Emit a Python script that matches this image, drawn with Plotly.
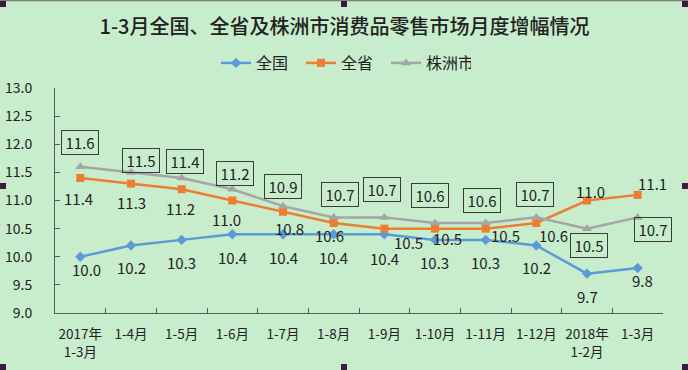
import plotly.graph_objects as go

# ---------------- data ----------------
categories = ["2017年<br>1-3月", "1-4月", "1-5月", "1-6月", "1-7月", "1-8月", "1-9月",
              "1-10月", "1-11月", "1-12月", "2018年<br>1-2月", "1-3月"]
national = [10.0, 10.2, 10.3, 10.4, 10.4, 10.4, 10.4, 10.3, 10.3, 10.2, 9.7, 9.8]
province = [11.4, 11.3, 11.2, 11.0, 10.8, 10.6, 10.5, 10.5, 10.5, 10.6, 11.0, 11.1]
zhuzhou = [11.6, 11.5, 11.4, 11.2, 10.9, 10.7, 10.7, 10.6, 10.6, 10.7, 10.5, 10.7]
series_names = ["全国", "全省", "株洲市"]
y_ticks = [9.0, 9.5, 10.0, 10.5, 11.0, 11.5, 12.0, 12.5, 13.0]
title_text = "1-3月全国、全省及株洲市消费品零售市场月度增幅情况"

# ---------------- label offsets (pixels, dx right, dy down) ----------------
nat_off = [(6, 13), (0, 22), (0, 23), (0, 23), (0, 23), (0, 23), (0, 24), (-1, 23),
           (0, 23), (0, 22), (0, 23), (5, 12)]
prov_off = [(-2, 20), (0, 19), (-1, 19), (-6, 19), (6, 17), (-4, 12), (24, 14), (12, 10),
            (20, 7), (17, 12), (3, -9), (15, -11)]
zz_off = [(0, -24), (10, -12), (3, -17), (3, -16), (0, -20), (6, -23), (-2, -28), (-5, -28),
          (-4, -23), (-1, -23), (2, 17), (15, 12)]

colors = ["#5B9BD5", "#ED7D31", "#A5A5A5"]
symbols = ["diamond", "square", "triangle-up"]
msizes = [8, 8, 9]
BG = "#C7EDCC"
FONT = "Noto Sans CJK SC, Noto Sans, sans-serif"
TXT = "#222222"

W, H = 688, 370
ML, MR, MT, MB = 55, 25, 88, 57
PW, PH = W - ML - MR, H - MT - MB

fig = go.Figure()
for name, vals, c, s, ms in zip(series_names, [national, province, zhuzhou], colors, symbols, msizes):
    fig.add_trace(go.Scatter(
        x=categories, y=vals, name=name, mode="lines+markers",
        line=dict(color=c, width=2.5),
        marker=dict(symbol=s, size=ms, color=c),
    ))

annotations = []
for vals, offs, boxed in [(national, nat_off, False), (province, prov_off, False), (zhuzhou, zz_off, True)]:
    for cat, v, (dx, dy) in zip(categories, vals, offs):
        a = dict(x=cat, y=v, text=f"{v:.1f}", showarrow=False, xshift=dx, yshift=-dy,
                 xanchor="center", yanchor="middle",
                 font=dict(family=FONT, size=15, color=TXT))
        if boxed:
            a.update(bordercolor="#3A3A3A", borderwidth=1, borderpad=1, width=34, height=21,
                     bgcolor="rgba(0,0,0,0)")
        annotations.append(a)


def px_x(p):
    return (p - ML) / PW


def px_y(p):
    return (H - MB - p) / PH


shapes = [dict(type="line", xref="paper", yref="paper", x0=px_x(0), x1=px_x(W),
               y0=px_y(0.5), y1=px_y(0.5), line=dict(color="#7F7F7F", width=1.5))]
handles = [(0, 1), (341, 1), (682, 1), (0, 183), (682, 183), (0, 364), (341, 364), (682, 364)]
for hx, hy in handles:
    shapes.append(dict(type="rect", xref="paper", yref="paper",
                       x0=px_x(hx), x1=px_x(hx + 6), y0=px_y(hy + 6), y1=px_y(hy),
                       fillcolor="#3B1A3B", line=dict(width=0)))

fig.update_layout(
    width=W, height=H,
    margin=dict(l=ML, r=MR, t=MT, b=MB, autoexpand=False),
    paper_bgcolor=BG, plot_bgcolor=BG,
    font=dict(family=FONT, color=TXT),
    title=dict(text=title_text, x=344.5 / W, xanchor="center", y=1 - 27 / H, yanchor="middle",
               font=dict(family=FONT, size=20, color=TXT, weight=500)),
    legend=dict(orientation="h", x=px_x(216), xanchor="left", y=px_y(63), yanchor="middle",
                font=dict(family=FONT, size=16, color=TXT), itemwidth=30,
                entrywidth=40, entrywidthmode="pixels",
                bgcolor="rgba(0,0,0,0)"),
    xaxis=dict(type="category", range=[-0.5, len(categories) - 0.5],
               showgrid=False, showline=True, linecolor="#595959", linewidth=1,
               ticks="inside", ticklen=5, tickcolor="#595959", tickson="boundaries",
               tickangle=0, automargin=False,
               tickfont=dict(family=FONT, size=13.5, color=TXT), ticklabelstandoff=9),
    yaxis=dict(range=[9, 13], tickvals=y_ticks, ticktext=[f"{t:.1f}" for t in y_ticks],
               showgrid=False, zeroline=False, showline=True, linecolor="#595959", linewidth=1,
               ticks="inside", ticklen=5, tickcolor="#595959", automargin=False,
               tickfont=dict(family=FONT, size=14, color=TXT), ticklabelstandoff=19),
    annotations=annotations,
    shapes=shapes,
)

fig.write_html("out.html", config={"displayModeBar": False},
               post_script="document.body.style.margin='0';document.body.style.overflow='hidden';")
